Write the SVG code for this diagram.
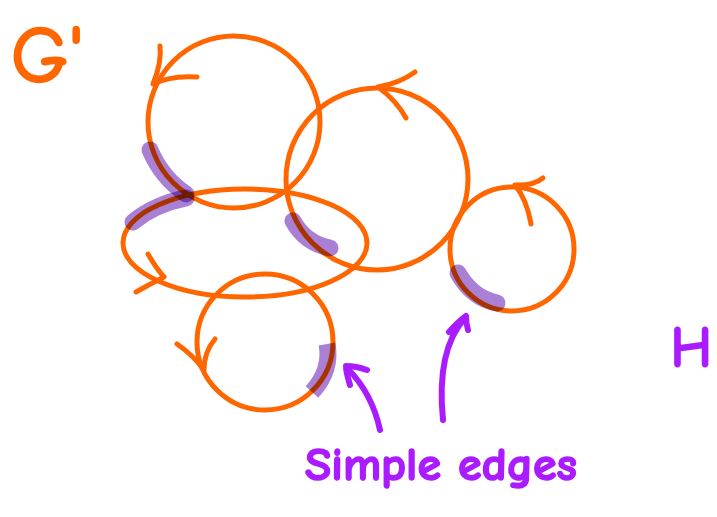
<svg xmlns="http://www.w3.org/2000/svg" width="717" height="517" viewBox="0 0 717 517">
<style>
.o{fill:none;stroke:#ff6600;stroke-width:5;stroke-linecap:round;stroke-linejoin:round}
.hl{fill:none;stroke:#a980d6;stroke-width:17;stroke-linecap:round;mix-blend-mode:multiply}
.p{fill:none;stroke:#aa1cff;stroke-width:6;stroke-linecap:round;stroke-linejoin:round}
.t{font-family:"Comic Neue","Liberation Sans",sans-serif;stroke-linejoin:round}
</style>
<rect width="717" height="517" fill="#ffffff"/>
<g id="cycle1">
<circle class="o" cx="234" cy="122" r="86"/>
<path class="o" d="M160,46 Q162,62 153,84 Q172,75 197,77"/>
</g>
<g id="cycle2">
<circle class="o" cx="377" cy="179" r="91"/>
<path class="o" d="M415,72 Q400,83 378,87 Q396,100 406,118"/>
</g>
<g id="cycle3">
<circle class="o" cx="512" cy="249" r="62"/>
<path class="o" d="M543,178 Q533,186 515,185 Q527,200 531,224"/>
</g>
<g id="cycle4">
<ellipse class="o" cx="245" cy="243" rx="122" ry="54"/>
<path class="o" d="M148,254 Q156,268 164,277 Q150,284 136,292"/>
</g>
<g id="cycle5">
<circle class="o" cx="265" cy="342" r="68"/>
<path class="o" d="M177,344 Q193,355 204,370 Q204,352 215,339"/>
</g>
<g id="highlights">
<path class="hl" d="M150,150 Q162,178 186,194"/>
<path class="hl" d="M133,222 Q155,204 186,198"/>
<path class="hl" d="M293,221 Q305,243 330,248"/>
<path class="hl" d="M458,273 Q472,298 497,303"/>
<path class="hl" d="M327,344 Q332,370 312,392" style="stroke-linecap:butt"/>
</g>
<g id="connectors">
<path class="p" d="M380,430 Q372,393 347,368"/>
<path class="p" d="M350,385 Q346,372 346,366 Q356,366 367,370"/>
<path class="p" d="M443,420 Q436,350 465,318"/>
<path class="p" d="M449,332 Q458,322 466,316 Q466,323 468,330"/>
</g>
<g id="labels">
<text class="t" x="11" y="82" font-size="80" fill="#ff6600" stroke="#ff6600" stroke-width="2.5">G'</text>
<text class="t" x="671" y="366" font-size="56" fill="#aa1cff" stroke="#aa1cff" stroke-width="3">H</text>
<text class="t" x="305" y="480" font-size="46" fill="#aa1cff" stroke="#aa1cff" stroke-width="1.5" font-weight="bold" textLength="272" lengthAdjust="spacingAndGlyphs">Simple edges</text>
</g>
</svg>
